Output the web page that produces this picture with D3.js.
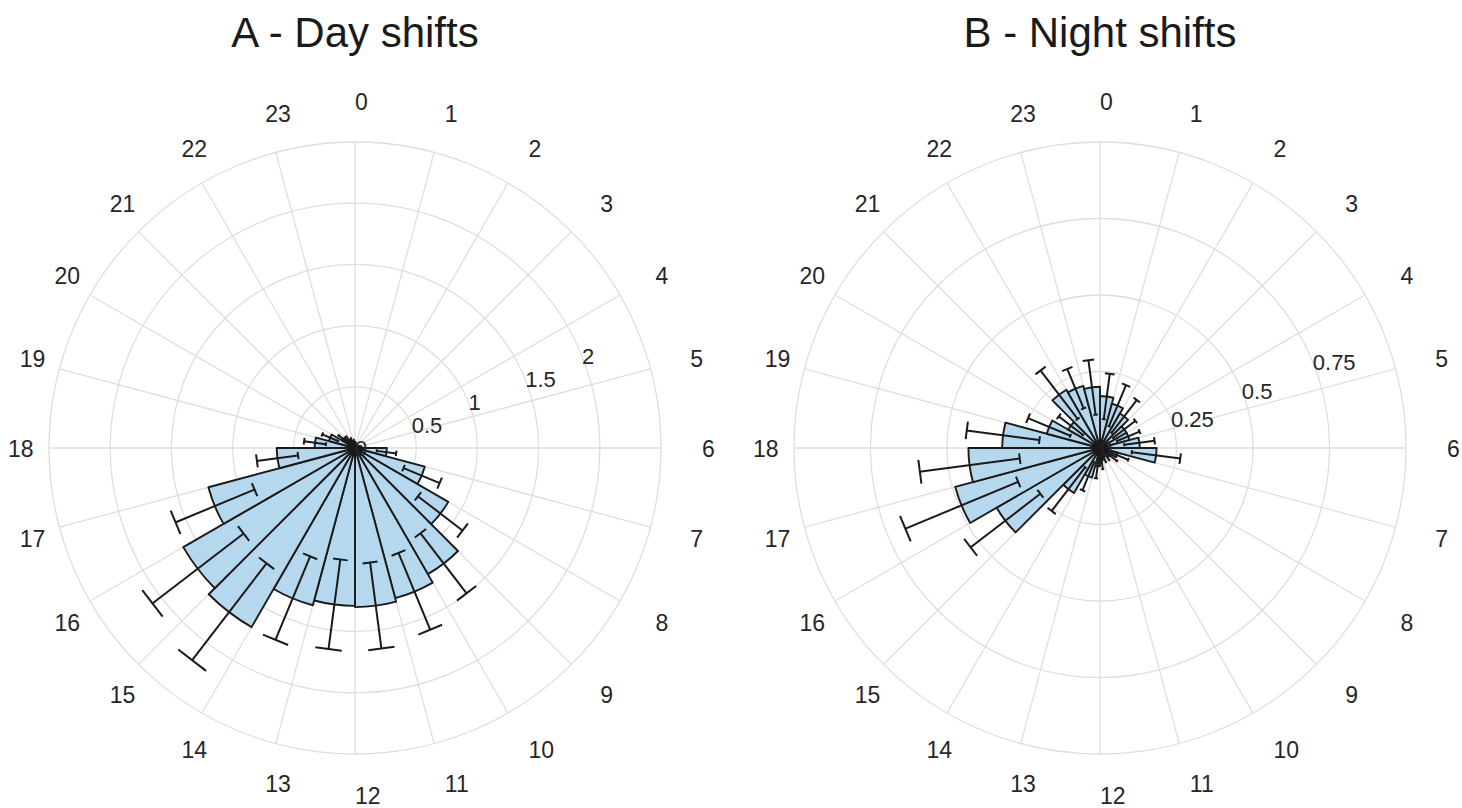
<!DOCTYPE html>
<html>
<head>
<meta charset="utf-8">
<script src="https://cdn.jsdelivr.net/npm/d3@7"></script>
<style>
  html, body { margin: 0; padding: 0; background: #ffffff; }
  svg { display: block; font-family: "Liberation Sans", Arial, Helvetica, sans-serif; }
</style>
</head>
<body>
<svg id="chart" width="1462" height="808"></svg>
<script>
// Hour-of-day bins (each bar spans [h, h+1))
const hours = d3.range(24);
const hourLabels = hours.map(String);

// A - Day shifts: mean and error per hour bin
const dayMean = [0.03, 0.02, 0.02, 0.02, 0.03, 0.04, 0.26, 0.59, 0.88, 1.19, 1.27, 1.30,
                 1.29, 1.33, 1.69, 1.62, 1.24, 0.64, 0.33, 0.22, 0.12, 0.08, 0.06, 0.05];
const dayErr  = [0.02, 0.01, 0.01, 0.01, 0.02, 0.02, 0.08, 0.16, 0.23, 0.31, 0.34, 0.355,
                 0.37, 0.37, 0.50, 0.47, 0.35, 0.17, 0.09, 0.07, 0.05, 0.04, 0.03, 0.02];
const dayTicks = [0, 0.5, 1, 1.5, 2];
const dayMax = 2.5;

// B - Night shifts: mean and error per hour bin
const nightMean = [0.17, 0.15, 0.13, 0.10, 0.10, 0.13, 0.185, 0.06, 0.04, 0.03, 0.03, 0.04,
                   0.06, 0.10, 0.17, 0.39, 0.49, 0.43, 0.32, 0.18, 0.12, 0.22, 0.21, 0.20];
const nightErr  = [0.075, 0.073, 0.068, 0.046, 0.04, 0.05, 0.08, 0.04, 0.03, 0.02, 0.02, 0.03,
                   0.04, 0.05, 0.09, 0.144, 0.20, 0.165, 0.12, 0.075, 0.05, 0.10, 0.07, 0.09];
const nightTicks = [0, 0.25, 0.5, 0.75];
const nightMax = 1;

const panels = [
  { title: "A - Day shifts",   cx: 355,  cy: 448, mean: dayMean,   err: dayErr,   ticks: dayTicks,   max: dayMax },
  { title: "B - Night shifts", cx: 1100, cy: 448, mean: nightMean, err: nightErr, ticks: nightTicks, max: nightMax }
];

const R = 306;               // outer radius of each polar plot
const labelR = 347;          // radius of the hour labels
const rLabelAngle = 68 * Math.PI / 180;  // direction of the radial tick labels
const capHalf = 0.25;        // half-width of error caps, in hours
const gridColor = "#dedede";
const textColor = "#262626";
const barFill = "#b6d8ee";
const ink = "#1a1a1a";

const svg = d3.select("#chart");

panels.forEach(p => {
  const angle = d3.scaleLinear().domain([0, 24]).range([0, 2 * Math.PI]);
  const radius = d3.scaleLinear().domain([0, p.max]).range([0, R]);
  const px = (h, v) => p.cx + radius(v) * Math.sin(angle(h));
  const py = (h, v) => p.cy - radius(v) * Math.cos(angle(h));

  const g = svg.append("g");

  // title
  g.append("text")
    .attr("x", p.cx).attr("y", 47)
    .attr("text-anchor", "middle")
    .attr("font-size", 42)
    .attr("fill", ink)
    .text(p.title);

  // grid rings (tick values plus outer limit)
  const rings = p.ticks.filter(t => t > 0).concat([p.max]);
  g.selectAll("circle.ring").data(rings).join("circle")
    .attr("cx", p.cx).attr("cy", p.cy)
    .attr("r", d => radius(d))
    .attr("fill", "none")
    .attr("stroke", gridColor)
    .attr("stroke-width", 1.3);

  // spokes at each hour
  g.selectAll("line.spoke").data(hours).join("line")
    .attr("x1", p.cx).attr("y1", p.cy)
    .attr("x2", h => px(h, p.max)).attr("y2", h => py(h, p.max))
    .attr("stroke", gridColor)
    .attr("stroke-width", 1.3);

  // hour labels (digits vertically centred on the anchor)
  g.selectAll("text.hour").data(hours).join("text")
    .attr("x", h => p.cx + labelR * Math.sin(angle(h)))
    .attr("y", h => p.cy + 1 - labelR * Math.cos(angle(h)))
    .attr("dy", "0.36em")
    .attr("text-anchor", "start")
    .attr("font-size", 23)
    .attr("fill", textColor)
    .text(h => hourLabels[h]);

  // bars
  const arc = d3.arc()
    .innerRadius(0)
    .outerRadius(d => radius(d.v))
    .startAngle(d => angle(d.h))
    .endAngle(d => angle(d.h + 1));
  const bins = hours.map(h => ({ h, v: p.mean[h], e: p.err[h] }));

  g.append("g")
    .attr("transform", `translate(${p.cx},${p.cy})`)
    .selectAll("path").data(bins).join("path")
    .attr("d", arc)
    .attr("fill", barFill)
    .attr("stroke", ink)
    .attr("stroke-width", 1.9)
    .attr("stroke-linejoin", "round");

  // error bars: radial line with caps at both ends
  const eb = g.append("g")
    .attr("fill", "none")
    .attr("stroke", ink)
    .attr("stroke-width", 2);
  bins.forEach(d => {
    const hc = d.h + 0.5;
    const lo = Math.max(0, d.v - d.e), hi = d.v + d.e;
    eb.append("line")
      .attr("x1", px(hc, lo)).attr("y1", py(hc, lo))
      .attr("x2", px(hc, hi)).attr("y2", py(hc, hi));
    [lo, hi].forEach(r => {
      eb.append("line")
        .attr("x1", px(hc - capHalf, r)).attr("y1", py(hc - capHalf, r))
        .attr("x2", px(hc + capHalf, r)).attr("y2", py(hc + capHalf, r));
    });
  });

  // radial tick labels
  g.selectAll("text.rtick").data(p.ticks).join("text")
    .attr("x", d => p.cx + radius(d) * Math.sin(rLabelAngle))
    .attr("y", d => p.cy - radius(d) * Math.cos(rLabelAngle))
    .attr("dy", "0.36em")
    .attr("text-anchor", "start")
    .attr("font-size", 22)
    .attr("fill", textColor)
    .text(d => String(d));
});
</script>
</body>
</html>
